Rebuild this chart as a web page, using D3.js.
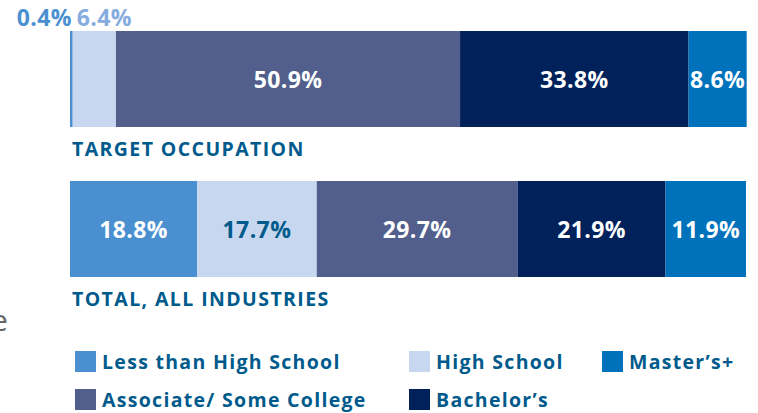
<!DOCTYPE html>
<html>
<head>
<meta charset="utf-8">
<script src="https://cdn.jsdelivr.net/npm/d3@7"></script>
<style>
  body { margin: 0; background: #fff; }
  svg { display: block; font-family: "Open Sans", sans-serif; }
</style>
</head>
<body>
<div class="canvas"></div>
<script>
// data
const categories = ["Less than High School", "High School", "Associate/ Some College", "Bachelor\u2019s", "Master\u2019s+"];
const groups = ["TARGET OCCUPATION", "TOTAL, ALL INDUSTRIES"];
const targetValues = [0.4, 6.4, 50.9, 33.8, 8.6];
const totalValues = [18.8, 17.7, 29.7, 21.9, 11.9];
const legendRows = [["Less than High School", "High School", "Master\u2019s+"], ["Associate/ Some College", "Bachelor\u2019s"]];

const width = 758, height = 413;
const labelColor = "#005b8c";

const svg = d3.select(".canvas").append("svg")
  .attr("width", width)
  .attr("height", height);

// scales
const x = d3.scaleLinear().domain([0, 100]).range([70, 746]);
const y = d3.scaleBand().domain(groups).range([31, 277]).paddingInner(0.36);
const colors = d3.scaleOrdinal()
  .domain(categories)
  .range(["#4a90d0", "#c6d7ef", "#525f8c", "#00215a", "#0072bb"]);
const textColors = d3.scaleOrdinal()
  .domain(categories)
  .range(["#fff", labelColor, "#fff", "#fff", "#fff"]);

// stacked rows
const rows = [targetValues, totalValues].map((vals, gi) => {
  let acc = 0;
  return vals.map((v, i) => {
    const d = { group: groups[gi], cat: categories[i], value: v, x0: acc, x1: acc + v };
    acc += v;
    return d;
  });
});

const bars = svg.append("g");
rows.forEach(row => {
  const g = bars.append("g");
  g.selectAll("rect").data(row).enter().append("rect")
    .attr("x", d => x(d.x0))
    .attr("y", d => y(d.group))
    .attr("width", d => x(d.x1) - x(d.x0))
    .attr("height", y.bandwidth())
    .attr("fill", d => colors(d.cat));

  // labels inside wide segments
  g.selectAll("text.in").data(row.filter(d => d.value >= 8)).enter().append("text")
    .attr("class", "in")
    .attr("x", d => (x(d.x0) + x(d.x1)) / 2)
    .attr("y", d => y(d.group) + y.bandwidth() / 2 + 8.5)
    .attr("text-anchor", "middle")
    .attr("font-size", 23)
    .attr("font-weight", 700)
    .attr("letter-spacing", 0.4)
    .attr("fill", d => textColors(d.cat))
    .text(d => d.value.toFixed(1) + "%");

  // labels above narrow segments
  const small = row.filter(d => d.value < 8);
  g.selectAll("text.out").data(small).enter().append("text")
    .attr("class", "out")
    .attr("x", (d, i) => i === 0 ? x(d.x0) + 2 : x(d.x0) + 4)
    .attr("y", y(row[0].group) - 5)
    .attr("text-anchor", (d, i) => i === 0 ? "end" : "start")
    .attr("font-size", 23)
    .attr("font-weight", 700)
    .attr("letter-spacing", 0.4)
    .attr("fill", (d, i) => i === 0 ? "#4a90d0" : "#86acdf")
    .text(d => d.value.toFixed(1) + "%");

  // group title under the bar
  svg.append("text")
    .attr("x", 72)
    .attr("y", y(row[0].group) + y.bandwidth() + 28.5)
    .attr("font-size", 19.5)
    .attr("font-weight", 700)
    .attr("letter-spacing", 1.4)
    .attr("fill", labelColor)
    .text(row[0].group);
});

// stray text cut off at the left edge
svg.append("text")
  .attr("x", -9)
  .attr("y", 331)
  .attr("font-size", 30)
  .attr("fill", "#666")
  .text("e");

// legend
const colX = [75, 409, 602];
const rowY = [351, 389];
legendRows.forEach((r, ri) => {
  const items = svg.append("g").selectAll("g").data(r).enter().append("g")
    .attr("transform", (d, i) => `translate(${colX[i]}, ${rowY[ri]})`);
  items.append("rect")
    .attr("width", 21)
    .attr("height", 21)
    .attr("fill", d => colors(d));
  items.append("text")
    .attr("x", 27)
    .attr("y", 17.5)
    .attr("font-size", 19.5)
    .attr("font-weight", 700)
    .attr("letter-spacing", 1.3)
    .attr("fill", labelColor)
    .text(d => d);
});
</script>
</body>
</html>
